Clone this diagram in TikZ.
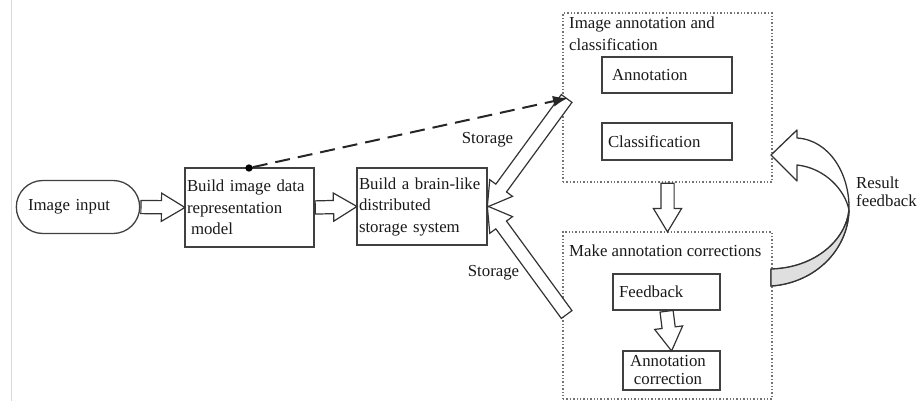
\documentclass[tikz,border=0pt]{standalone}
\usepackage{fontspec}
\setmainfont{Liberation Serif}
\usepackage{tikz}
\usetikzlibrary{arrows.meta, shapes.arrows, shapes.misc, calc, positioning}

% block arrow between two points, drawn as a rotated single arrow node
\newcommand{\hollowarrow}[2]{%
  \path let \p1=(#1), \p2=(#2), \n1={atan2(\y2-\y1,\x2-\x1)}, \n2={veclen(\x2-\x1,\y2-\y1)} in
    node[hollow arrow, minimum height=\n2, rotate=\n1, anchor=tail] at (\p1) {};}

\begin{document}
\begin{tikzpicture}[x=1pt, y=-1pt,
    every node/.style={font=\fontsize{16.8}{21.5}\selectfont, text=black!90},
    stepbox/.style={draw=black!75, line width=1.3pt, inner sep=2pt, align=left},
    groupbox/.style={draw=black!55, line width=1.4pt, dotted, inner sep=0pt},
    hollow arrow/.style={single arrow, draw=black!80, fill=white, line width=1.2pt,
        inner sep=0pt, inner ysep=6pt, minimum width=0pt,
        single arrow head extend=7.5pt, single arrow tip angle=62},
    dashlink/.style={draw=black!85, line width=2pt, dash pattern=on 15pt off 8pt,
        -{Latex[length=15pt,width=11pt]}}]
\useasboundingbox (0,0) rectangle (924,401);
\draw[gray!30, line width=1pt] (11,0) -- (11,401);

% left chain
\node[rounded rectangle, draw=black!75, line width=1.3pt, minimum width=130pt, minimum height=53pt,
      text width=100pt, align=left] (input) at (78,207) {Image input};
\node[stepbox, minimum width=129pt, minimum height=79pt, text width=125pt] (model) at (249.5,207.5)
      {Build image data\\representation\\\hspace*{4pt}model};
\node[stepbox, minimum width=130pt, minimum height=77pt, text width=126pt] (store) at (422,206.5)
      {Build a brain-like\\distributed\\storage system};

% right groups
\node[groupbox, minimum width=209pt, minimum height=169pt] (grpA) at (667.5,97.5) {};
\node[anchor=north west, align=left, inner sep=0pt] (titleA) at (569,17) {Image annotation and\\classification};
\node[stepbox, minimum width=130pt, minimum height=36pt, text width=110pt] (annot) at (667,75) {Annotation};
\node[stepbox, minimum width=130pt, minimum height=37pt, text width=118pt] (classif) at (667,141.5) {Classification};

\node[groupbox, minimum width=209pt, minimum height=167pt] (grpB) at (667.5,315.5) {};
\node[anchor=west, inner sep=0pt] (titleB) at (569,251) {Make annotation corrections};
\node[stepbox, minimum width=107pt, minimum height=36pt, text width=95pt] (fb) at (666.5,292) {Feedback};
\node[stepbox, minimum width=97pt, minimum height=39pt, text width=90pt, align=center, inner sep=0pt]
      (corr) at (671.5,370.5) {};
\node[align=center, inner sep=0pt] (corrtext) at (668,370) {Annotation\\[-3pt]correction};

% connectors
\coordinate (sA) at (567,98);
\coordinate (sB) at (567,315);
\hollowarrow{input.east}{model.west}
\hollowarrow{model.east}{store.west}
\hollowarrow{sA}{store.east}
\hollowarrow{sB}{store.east}
\hollowarrow{grpA.south}{grpB.north}
\hollowarrow{fb.south}{corr.north}

\node (labA) at (487.5,140) {Storage};
\node (labB) at (493.5,273) {Storage};

\node[circle, fill=black, inner sep=2.6pt] (dot) at (249,168) {};
\coordinate (dtip) at (568,98);
\draw[dashlink] (dot) -- (dtip);

% result feedback ribbon
\draw[draw=black!80, line width=1.3pt, fill=white, line join=round]
  (771,155) -- (797,130) -- (797,138) .. controls (830,140) and (850,175) .. (849,210)
  .. controls (848,250) and (815,283) .. (771,286) -- (771,269)
  .. controls (815,268) and (846,240) .. (849,210) .. controls (845,190) and (825,168) .. (797,165)
  -- (797,181) -- cycle;
\draw[draw=black!80, line width=1.3pt, fill=gray!25, line join=round]
  (849,210) .. controls (848,250) and (815,283) .. (771,286) -- (771,269)
  .. controls (815,268) and (846,240) .. (849,210) -- cycle;
\node[anchor=west, align=left, inner sep=0pt] (resfb) at (856,192) {Result\\[-3pt]feedback};
\end{tikzpicture}
\end{document}
